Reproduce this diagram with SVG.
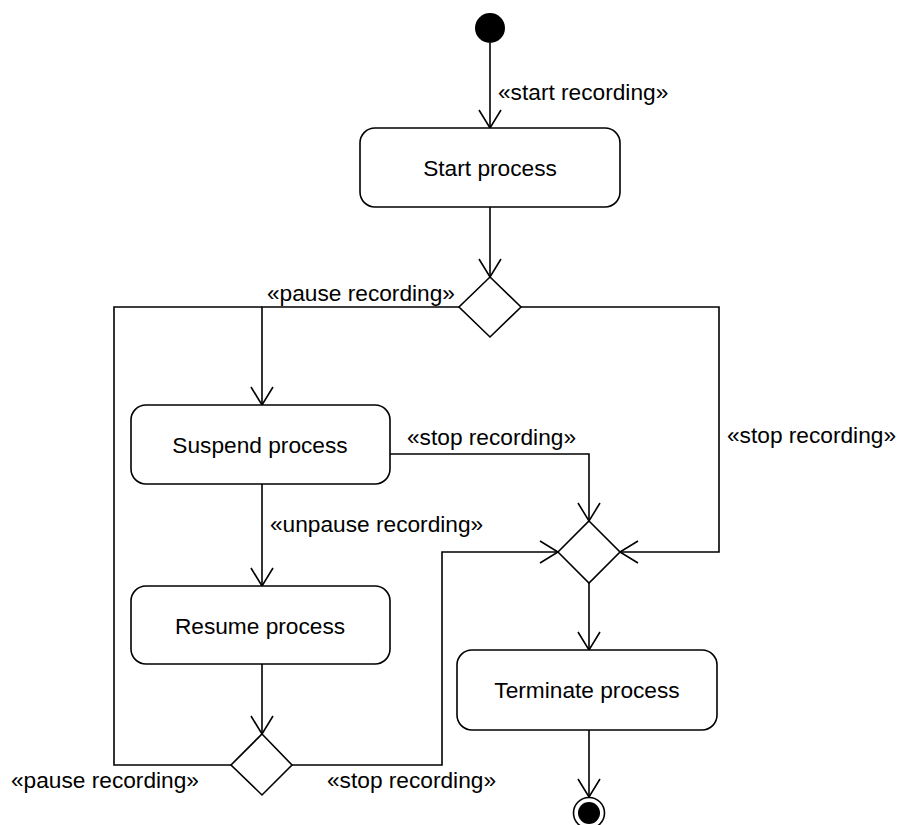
<svg xmlns="http://www.w3.org/2000/svg" width="897" height="825" viewBox="0 0 897 825">
  <defs>
    <marker id="open-arrow" markerUnits="userSpaceOnUse" viewBox="-20 -13 22 26" markerWidth="22" markerHeight="26" refX="0" refY="0" orient="auto">
      <path d="M -18 -11 L 0 0 L -18 11" fill="none" stroke="#000" stroke-width="1.6"/>
    </marker>
  </defs>
  <style>
    text { font-family: "Liberation Sans", Arial, sans-serif; font-size: 22.7px; fill: #000; }
    .action { fill: #fff; stroke: #000; stroke-width: 1.6; }
    .decision { fill: #fff; stroke: #000; stroke-width: 1.6; }
    .flow { fill: none; stroke: #000; stroke-width: 1.6; }
    .arrow { marker-end: url(#open-arrow); }
    .center { text-anchor: middle; }
  </style>
  <rect width="897" height="825" fill="#fff"/>

  <!-- control flows -->
  <g id="connectors">
    <path class="flow arrow" d="M 490 43 L 490 128"/>
    <path class="flow arrow" d="M 490 207 L 490 277"/>
    <path class="flow arrow" d="M 459 307 L 262 307 L 262 405"/>
    <path class="flow arrow" d="M 521 307 L 719 307 L 719 552 L 620 552"/>
    <path class="flow arrow" d="M 390 454 L 589 454 L 589 521"/>
    <path class="flow arrow" d="M 262 484 L 262 586"/>
    <path class="flow arrow" d="M 262 664 L 262 734"/>
    <path class="flow" d="M 231 765 L 114 765 L 114 307 L 262 307"/>
    <path class="flow arrow" d="M 292 765 L 442 765 L 442 552 L 558 552"/>
    <path class="flow arrow" d="M 589 583 L 589 650"/>
    <path class="flow arrow" d="M 589 730 L 589 797"/>
    <text x="498" y="100">«start recording»</text>
    <text x="267" y="301">«pause recording»</text>
    <text x="407" y="445">«stop recording»</text>
    <text x="727" y="443">«stop recording»</text>
    <text x="270" y="532">«unpause recording»</text>
    <text x="11" y="788">«pause recording»</text>
    <text x="327" y="788">«stop recording»</text>
  </g>

  <g id="initial">
    <circle cx="490" cy="28" r="15" fill="#000"/>
  </g>

  <g id="start-process">
    <rect class="action" x="360" y="128" width="260" height="79" rx="15"/>
    <text class="center" x="490" y="176">Start process</text>
  </g>

  <g id="decision-recording">
    <polygon class="decision" points="490,277 521,307 490,337 459,307"/>
  </g>

  <g id="suspend-process">
    <rect class="action" x="131" y="405" width="259" height="79" rx="15"/>
    <text class="center" x="260" y="453">Suspend process</text>
  </g>

  <g id="resume-process">
    <rect class="action" x="131" y="586" width="259" height="78" rx="15"/>
    <text class="center" x="260" y="634">Resume process</text>
  </g>

  <g id="merge-stop">
    <polygon class="decision" points="589,521 620,552 589,583 558,552"/>
  </g>

  <g id="decision-resume">
    <polygon class="decision" points="262,734 292,765 262,795 231,765"/>
  </g>

  <g id="terminate-process">
    <rect class="action" x="457" y="650" width="260" height="80" rx="15"/>
    <text class="center" x="587" y="698">Terminate process</text>
  </g>

  <g id="final">
    <circle cx="589" cy="813" r="15.5" fill="#fff" stroke="#000" stroke-width="1.6"/>
    <circle cx="589" cy="813" r="11" fill="#000"/>
  </g>
</svg>
